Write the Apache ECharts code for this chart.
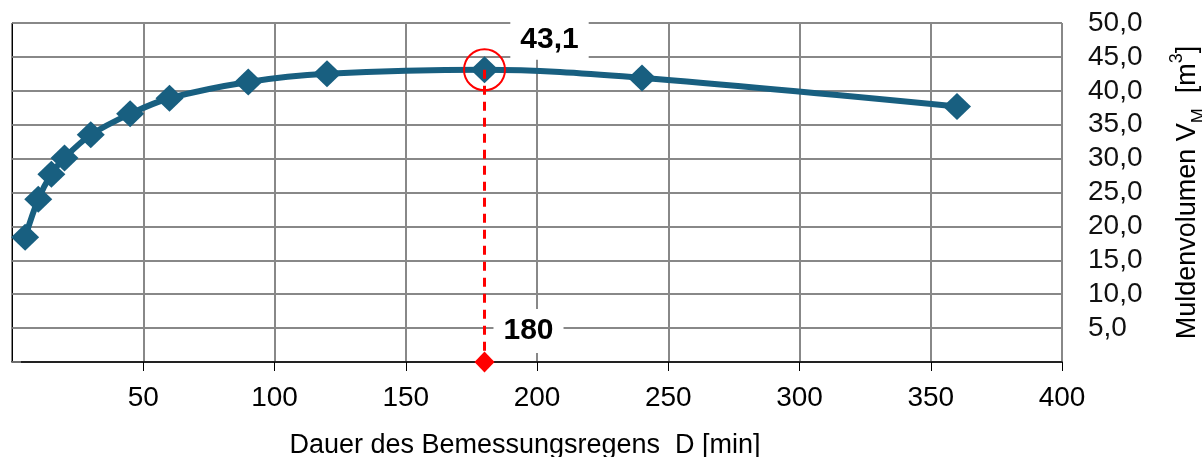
<!DOCTYPE html>
<html>
<head>
<meta charset="utf-8">
<script src="https://cdn.jsdelivr.net/npm/echarts@6/dist/echarts.min.js"></script>
<style>
html,body{margin:0;padding:0;background:#fff;}
#chart{width:1202px;height:457px;}
</style>
</head>
<body>
<div id="chart"></div>
<script>
// Data
const durations = [5, 10, 15, 20, 30, 45, 60, 90, 120, 180, 240, 360];
const volumes   = [18.4, 24.0, 27.7, 30.1, 33.5, 36.6, 38.9, 41.3, 42.5, 43.1, 41.9, 37.7];
const peakD = 180;
const peakV = 43.1;
const xAxisTitle = 'Dauer des Bemessungsregens  D [min]';

const FONT = '"Liberation Sans", Arial, sans-serif';
const fmt = v => v.toFixed(1).replace('.', ',');

const chart = echarts.init(document.getElementById('chart'), null, {renderer: 'canvas'});
chart.setOption({
  animation: false,
  backgroundColor: '#fff',
  textStyle: {fontFamily: FONT},
  grid: {left: 12, right: 140, top: 23, bottom: 95, containLabel: false, outerBoundsMode: 'none'},
  xAxis: {
    type: 'value', min: 0, max: 400, interval: 50,
    name: xAxisTitle, nameLocation: 'middle', nameGap: 70,
    nameTextStyle: {fontSize: 27, color: '#000', fontFamily: FONT, padding: [0, 24, 0, 0]},
    axisLine: {show: true, onZero: false, lineStyle: {color: '#000', width: 1.5}},
    axisTick: {show: true, length: 9, lineStyle: {color: '#000', width: 1}},
    axisLabel: {fontSize: 28, color: '#000', margin: 22, showMinLabel: false, fontFamily: FONT},
    splitLine: {show: true, lineStyle: {color: '#888', width: 2}}
  },
  yAxis: {
    type: 'value', position: 'right', min: 0, max: 50, interval: 5,
    name: 'Muldenvolumen V{sub|M}  [m{sup|3}]', nameLocation: 'middle', nameGap: 106, nameRotate: 90,
    nameTextStyle: {
      fontSize: 27, color: '#000', fontFamily: FONT, lineHeight: 34,
      rich: {
        sub: {fontSize: 18, verticalAlign: 'bottom', lineHeight: 30, fontFamily: FONT, color: '#000'},
        sup: {fontSize: 18, verticalAlign: 'top', lineHeight: 40, fontFamily: FONT, color: '#000'}
      }
    },
    axisLine: {show: true, lineStyle: {color: '#000', width: 1}},
    axisTick: {show: true, inside: false, length: 9, lineStyle: {color: '#888', width: 1.5}},
    axisLabel: {
      fontSize: 28, color: '#111', margin: 26, align: 'left', fontFamily: FONT,
      formatter: v => v === 0 ? '' : fmt(v)
    },
    splitLine: {show: true, lineStyle: {color: '#888', width: 2}}
  },
  series: [
    {
      name: 'Muldenvolumen',
      type: 'line',
      data: durations.map((d, i) => [d, volumes[i]]),
      smooth: 0.35,
      symbol: 'diamond',
      symbolSize: [28, 27],
      showAllSymbol: true,
      lineStyle: {color: '#185f80', width: 6},
      itemStyle: {color: '#185f80'},
      z: 3
    },
    {
      name: 'Peak-Linie',
      type: 'line',
      data: [[peakD, peakV], [peakD, 0]],
      symbol: 'none',
      lineStyle: {color: '#ff0000', width: 3, type: [9, 7]},
      z: 4
    },
    {
      name: 'Peak-Kreis',
      type: 'scatter',
      data: [[peakD, peakV]],
      symbol: 'circle',
      symbolSize: 41,
      clip: false,
      itemStyle: {color: 'rgba(0,0,0,0)', borderColor: '#ff0000', borderWidth: 2, opacity: 1},
      label: {
        show: true, position: 'inside', offset: [65, -30],
        formatter: () => fmt(peakV),
        fontSize: 30, fontWeight: 'bold', color: '#000', fontFamily: FONT,
        backgroundColor: '#fff', padding: [6, 10, 4, 10], align: 'center', verticalAlign: 'middle'
      },
      z: 5
    },
    {
      name: 'Peak-Dauer',
      type: 'scatter',
      data: [[peakD, 0]],
      symbol: 'diamond',
      symbolSize: [20, 21],
      clip: false,
      itemStyle: {color: '#ff0000', opacity: 1},
      label: {
        show: true, position: 'inside', offset: [44, -31],
        formatter: () => String(peakD),
        fontSize: 30, fontWeight: 'bold', color: '#000', fontFamily: FONT,
        backgroundColor: '#fff', padding: [8, 10, 6, 10], align: 'center', verticalAlign: 'middle'
      },
      z: 5
    }
  ]
});
</script>
</body>
</html>
